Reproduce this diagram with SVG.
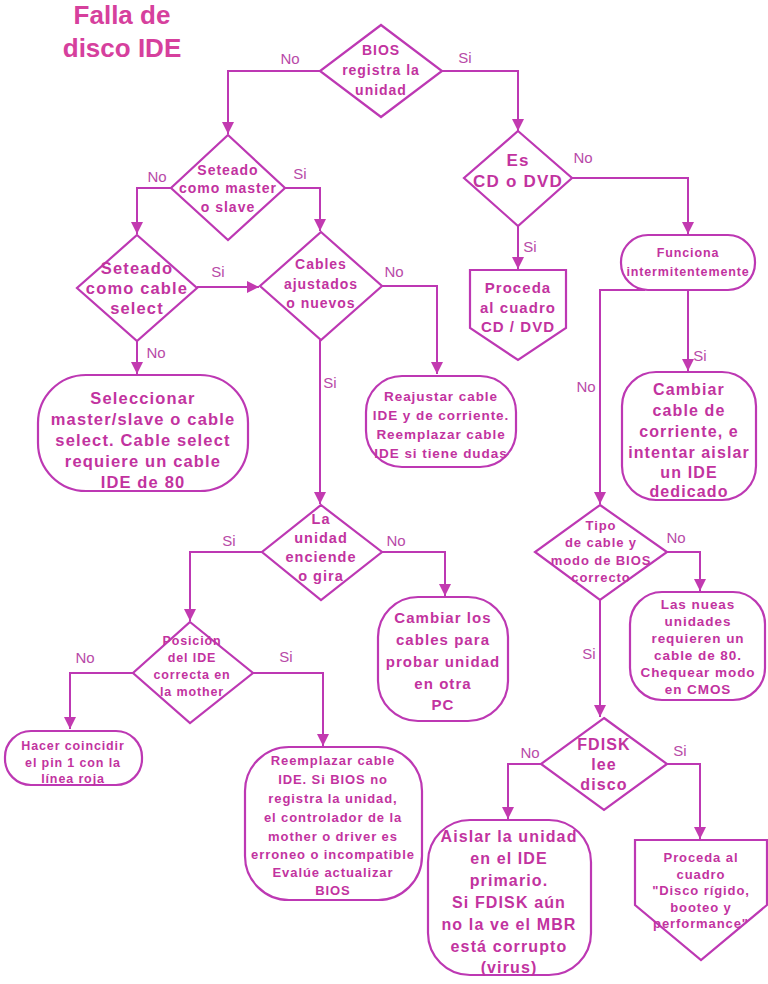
<svg xmlns="http://www.w3.org/2000/svg" width="768" height="984" viewBox="0 0 768 984">
<style>
.bg{fill:#ffffff}
.sh{fill:#ffffff;stroke:#bd38b3;stroke-width:2.2}
.ln{fill:none;stroke:#bd38b3;stroke-width:2}
.t{font-family:"Liberation Sans",Arial,sans-serif;font-weight:700;fill:#c2339f;text-anchor:middle;letter-spacing:0.07em}
.lb{font-family:"Liberation Sans",Arial,sans-serif;font-weight:400;fill:#b84aa8;font-size:15px;text-anchor:middle}
.title{font-family:"Liberation Sans",Arial,sans-serif;font-weight:700;fill:#d6409d;font-size:26px;text-anchor:middle}
</style>
<defs>
<marker id="ah" markerUnits="userSpaceOnUse" markerWidth="14" markerHeight="14" refX="12" refY="6" orient="auto">
<path d="M0,0 L12,6 L0,12 Z" fill="#c23ab0"/>
</marker>
</defs>
<rect class="bg" x="0" y="0" width="768" height="984"/>
<g id="title">
<text class="title" x="122" y="24">Falla de</text>
<text class="title" x="122" y="57">disco IDE</text>
</g>
<g id="connectors">
<path class="ln" d="M320,71 H228 V134" marker-end="url(#ah)"/>
<path class="ln" d="M442,71 H518 V131" marker-end="url(#ah)"/>
<path class="ln" d="M172,188 H137 V234" marker-end="url(#ah)"/>
<path class="ln" d="M285,188 H320 V231" marker-end="url(#ah)"/>
<path class="ln" d="M197,287 H259" marker-end="url(#ah)"/>
<path class="ln" d="M382,286 H437 V374" marker-end="url(#ah)"/>
<path class="ln" d="M137,341 V374" marker-end="url(#ah)"/>
<path class="ln" d="M320,340 V504" marker-end="url(#ah)"/>
<path class="ln" d="M572,178 H688 V234" marker-end="url(#ah)"/>
<path class="ln" d="M518,226 V269" marker-end="url(#ah)"/>
<path class="ln" d="M645,290 H600 V504" marker-end="url(#ah)"/>
<path class="ln" d="M688,290 V371" marker-end="url(#ah)"/>
<path class="ln" d="M667,552 H700 V591" marker-end="url(#ah)"/>
<path class="ln" d="M600,600 V717" marker-end="url(#ah)"/>
<path class="ln" d="M262,552 H190 V621" marker-end="url(#ah)"/>
<path class="ln" d="M382,552 H445 V596" marker-end="url(#ah)"/>
<path class="ln" d="M133,673 H70 V729" marker-end="url(#ah)"/>
<path class="ln" d="M253,673 H323 V746" marker-end="url(#ah)"/>
<path class="ln" d="M541,764 H508 V819" marker-end="url(#ah)"/>
<path class="ln" d="M667,764 H700 V839" marker-end="url(#ah)"/>
<text class="lb" x="290" y="64">No</text>
<text class="lb" x="465" y="63">Si</text>
<text class="lb" x="157" y="182">No</text>
<text class="lb" x="300" y="179">Si</text>
<text class="lb" x="218" y="277">Si</text>
<text class="lb" x="394" y="277">No</text>
<text class="lb" x="156" y="358">No</text>
<text class="lb" x="330" y="388">Si</text>
<text class="lb" x="583" y="163">No</text>
<text class="lb" x="530" y="252">Si</text>
<text class="lb" x="586" y="392">No</text>
<text class="lb" x="700" y="361">Si</text>
<text class="lb" x="676" y="543">No</text>
<text class="lb" x="589" y="659">Si</text>
<text class="lb" x="229" y="546">Si</text>
<text class="lb" x="396" y="546">No</text>
<text class="lb" x="85" y="663">No</text>
<text class="lb" x="286" y="662">Si</text>
<text class="lb" x="530" y="758">No</text>
<text class="lb" x="680" y="756">Si</text>
</g>
<g id="n_bios">
<path class="sh" d="M381,25 L442,71 L381,117 L320,71 Z"/>
<text class="t" font-size="14" x="381" y="55">BIOS</text>
<text class="t" font-size="14" x="381" y="75">registra la</text>
<text class="t" font-size="14" x="381" y="95">unidad</text>
</g>
<g id="n_master">
<path class="sh" d="M228,135 L285,188 L228,240 L171,188 Z"/>
<text class="t" font-size="14" x="228" y="175">Seteado</text>
<text class="t" font-size="14" x="228" y="193">como master</text>
<text class="t" font-size="14" x="228" y="212">o slave</text>
</g>
<g id="n_cablesel">
<path class="sh" d="M137,235 L197,288 L137,341 L77,288 Z"/>
<text class="t" font-size="16.5" x="137" y="274">Seteado</text>
<text class="t" font-size="16.5" x="137" y="294">como cable</text>
<text class="t" font-size="16.5" x="137" y="314">select</text>
</g>
<g id="n_cables">
<path class="sh" d="M321,232 L382,286 L321,340 L260,286 Z"/>
<text class="t" font-size="14" x="321" y="269">Cables</text>
<text class="t" font-size="14" x="321" y="289">ajustados</text>
<text class="t" font-size="14" x="321" y="308">o nuevos</text>
</g>
<g id="n_selec">
<rect class="sh" x="38" y="375" width="210" height="116" rx="48" ry="48"/>
<text class="t" font-size="16.5" x="143" y="404">Seleccionar</text>
<text class="t" font-size="16.5" x="143" y="425">master/slave o cable</text>
<text class="t" font-size="16.5" x="143" y="446">select. Cable select</text>
<text class="t" font-size="16.5" x="143" y="467">requiere un cable</text>
<text class="t" font-size="16.5" x="143" y="488">IDE de 80</text>
</g>
<g id="n_reajustar">
<rect class="sh" x="366" y="376" width="150" height="91" rx="36" ry="36"/>
<text class="t" font-size="13.5" x="441" y="401">Reajustar cable</text>
<text class="t" font-size="13.5" x="441" y="420">IDE y de corriente.</text>
<text class="t" font-size="13.5" x="441" y="439">Reemplazar cable</text>
<text class="t" font-size="13.5" x="441" y="458">IDE si tiene dudas</text>
</g>
<g id="n_cddvd">
<path class="sh" d="M518,131 L572,178 L518,226 L464,178 Z"/>
<text class="t" font-size="17" x="518" y="166">Es</text>
<text class="t" font-size="17" x="518" y="187">CD o DVD</text>
</g>
<g id="n_proceda_cd">
<path class="sh" d="M470,270 H566 V328 L518,360 L470,328 Z"/>
<text class="t" font-size="15" x="518" y="293">Proceda</text>
<text class="t" font-size="15" x="518" y="313">al cuadro</text>
<text class="t" font-size="15" x="518" y="332">CD / DVD</text>
</g>
<g id="n_funciona">
<rect class="sh" x="621" y="235" width="134" height="55" rx="27" ry="27"/>
<text class="t" font-size="12.5" x="688" y="257">Funciona</text>
<text class="t" font-size="12.5" x="688" y="276">intermitentemente</text>
</g>
<g id="n_cambiar_corr">
<rect class="sh" x="622" y="372" width="134" height="128" rx="34" ry="34"/>
<text class="t" font-size="16" x="689" y="395">Cambiar</text>
<text class="t" font-size="16" x="689" y="416">cable de</text>
<text class="t" font-size="16" x="689" y="437">corriente, e</text>
<text class="t" font-size="16" x="689" y="458">intentar aislar</text>
<text class="t" font-size="16" x="689" y="478">un IDE</text>
<text class="t" font-size="16" x="689" y="497">dedicado</text>
</g>
<g id="n_tipo">
<path class="sh" d="M600,505 L667,552 L600,600 L535,552 Z"/>
<text class="t" font-size="13" x="601" y="530">Tipo</text>
<text class="t" font-size="13" x="601" y="547">de cable y</text>
<text class="t" font-size="13" x="601" y="565">modo de BIOS</text>
<text class="t" font-size="13" x="601" y="582">correcto</text>
</g>
<g id="n_nuevas">
<rect class="sh" x="630" y="592" width="135" height="108" rx="32" ry="32"/>
<text class="t" font-size="13.5" x="698" y="609">Las nueas</text>
<text class="t" font-size="13.5" x="698" y="626">unidades</text>
<text class="t" font-size="13.5" x="698" y="643">requieren un</text>
<text class="t" font-size="13.5" x="698" y="660">cable de 80.</text>
<text class="t" font-size="13.5" x="698" y="677">Chequear modo</text>
<text class="t" font-size="13.5" x="698" y="694">en CMOS</text>
</g>
<g id="n_fdisk">
<path class="sh" d="M604,718 L667,764 L604,810 L541,764 Z"/>
<text class="t" font-size="16" x="604" y="750">FDISK</text>
<text class="t" font-size="16" x="604" y="770">lee</text>
<text class="t" font-size="16" x="604" y="790">disco</text>
</g>
<g id="n_aislar">
<rect class="sh" x="428" y="820" width="163" height="155" rx="42" ry="42"/>
<text class="t" font-size="16" x="509" y="842">Aislar la unidad</text>
<text class="t" font-size="16" x="509" y="864">en el IDE</text>
<text class="t" font-size="16" x="509" y="886">primario.</text>
<text class="t" font-size="16" x="509" y="908">Si FDISK aún</text>
<text class="t" font-size="16" x="509" y="930">no la ve el MBR</text>
<text class="t" font-size="16" x="509" y="952">está corrupto</text>
<text class="t" font-size="16" x="509" y="973">(virus)</text>
</g>
<g id="n_proceda_disco">
<path class="sh" d="M635,840 H767 V905 L701,960 L635,905 Z"/>
<text class="t" font-size="13" x="701" y="862">Proceda al</text>
<text class="t" font-size="13" x="701" y="879">cuadro</text>
<text class="t" font-size="13" x="701" y="895">"Disco rígido,</text>
<text class="t" font-size="13" x="701" y="912">booteo y</text>
<text class="t" font-size="13" x="701" y="928">performance"</text>
</g>
<g id="n_gira">
<path class="sh" d="M321,505 L382,552 L321,600 L262,552 Z"/>
<text class="t" font-size="14.5" x="321" y="524">La</text>
<text class="t" font-size="14.5" x="321" y="543">unidad</text>
<text class="t" font-size="14.5" x="321" y="562">enciende</text>
<text class="t" font-size="14.5" x="321" y="581">o gira</text>
</g>
<g id="n_cambiar_cables">
<rect class="sh" x="378" y="597" width="130" height="124" rx="40" ry="40"/>
<text class="t" font-size="15" x="443" y="623">Cambiar los</text>
<text class="t" font-size="15" x="443" y="645">cables para</text>
<text class="t" font-size="15" x="443" y="667">probar unidad</text>
<text class="t" font-size="15" x="443" y="689">en otra</text>
<text class="t" font-size="15" x="443" y="710">PC</text>
</g>
<g id="n_posicion">
<path class="sh" d="M190,622 L253,673 L190,723 L133,673 Z"/>
<text class="t" font-size="12.5" x="192" y="645">Posición</text>
<text class="t" font-size="12.5" x="192" y="662">del IDE</text>
<text class="t" font-size="12.5" x="192" y="679">correcta en</text>
<text class="t" font-size="12.5" x="192" y="696">la mother</text>
</g>
<g id="n_hacer">
<rect class="sh" x="5" y="731" width="137" height="54" rx="26" ry="26"/>
<text class="t" font-size="12.5" x="73" y="750">Hacer coincidir</text>
<text class="t" font-size="12.5" x="73" y="767">el pin 1 con la</text>
<text class="t" font-size="12.5" x="73" y="783">línea roja</text>
</g>
<g id="n_reemplazar">
<rect class="sh" x="245" y="747" width="177" height="153" rx="44" ry="44"/>
<text class="t" font-size="13" x="333" y="765">Reemplazar cable</text>
<text class="t" font-size="13" x="333" y="784">IDE. Si BIOS no</text>
<text class="t" font-size="13" x="333" y="803">registra la unidad,</text>
<text class="t" font-size="13" x="333" y="822">el controlador de la</text>
<text class="t" font-size="13" x="333" y="841">mother o driver es</text>
<text class="t" font-size="13" x="333" y="859">erroneo o incompatible</text>
<text class="t" font-size="13" x="333" y="877">Evalúe actualizar</text>
<text class="t" font-size="13" x="333" y="895">BIOS</text>
</g>
</svg>
